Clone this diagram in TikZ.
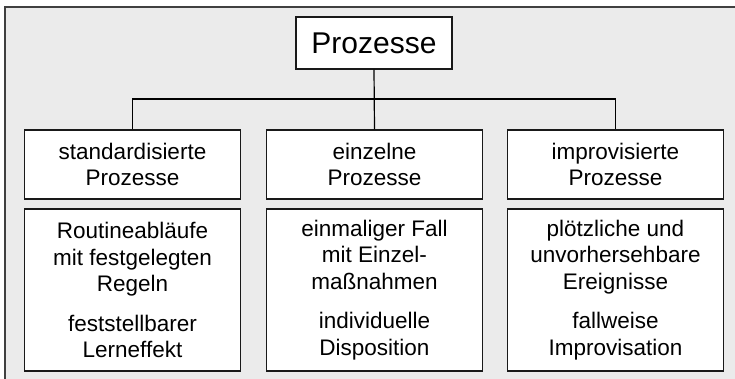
\documentclass[tikz,border=0pt]{standalone}
\usepackage{fontspec}
\setmainfont{Liberation Sans}
\begin{document}
\begin{tikzpicture}[x=1pt,y=-1pt,
  box/.style={draw=black!90, line width=1.2pt, fill=white, inner sep=0pt, align=center,
    font=\fontsize{22.5}{26.5}\selectfont},
  headbox/.style={box, minimum width=216pt, minimum height=69pt},
  bodybox/.style={box, minimum width=216pt, minimum height=162pt},
  link/.style={draw=black, line width=1.2pt},
  ]
\clip (0,0) rectangle (735,379);
\fill[white] (0,0) rectangle (735,379);
% grey panel behind the chart
\draw[draw=black!75, fill=black!8, line width=1.5pt] (5,7) rectangle (770,410);

% root
\node[box, minimum width=156pt, minimum height=52pt, font=\fontsize{30}{34}\selectfont] (top) at (374,43) {Prozesse};

% process types
\node[headbox] (s1) at (132.5,164.5) {standardisierte\\Prozesse};
\node[headbox] (s2) at (374.5,164.5) {einzelne\\Prozesse};
\node[headbox] (s3) at (615.5,164.5) {improvisierte\\Prozesse};

% characteristics
\node[bodybox] (d1) at (132.5,290) {Routineabläufe\\mit festgelegten\\Regeln\\[13pt]feststellbarer\\Lerneffekt};
\node[bodybox] (d2) at (374.5,290) {einmaliger Fall\\mit Einzel-\\maßnahmen\\[13pt]individuelle\\Disposition};
\node[bodybox] (d3) at (615.5,290) {plötzliche und\\unvorhersehbare\\Ereignisse\\[13pt]fallweise\\Improvisation};

% tree connectors
\coordinate (bus) at (374,99);
\draw[link] (top.south) -- (s2.north);
\draw[link] (s1.north) |- (bus) -| (s3.north);
\end{tikzpicture}
\end{document}
